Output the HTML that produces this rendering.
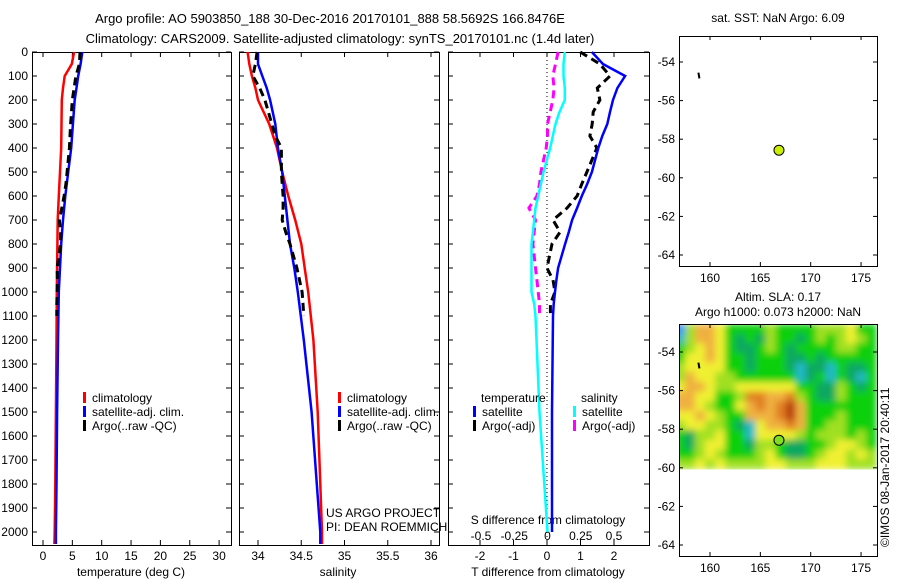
<!DOCTYPE html>
<html><head><meta charset="utf-8"><style>
html,body{margin:0;padding:0;background:#fff}
svg{display:block;font-family:"Liberation Sans",sans-serif}
text{fill:#000}
</style></head><body>
<svg id="c" width="900" height="580" viewBox="0 0 900 580">
<defs>
<filter id="bl" x="0" y="0" width="100%" height="100%"><feGaussianBlur stdDeviation="3.5" edgeMode="duplicate"/></filter>
<clipPath id="hmclip"><rect x="679" y="324" width="198" height="146"/></clipPath>
</defs>
<text x="330" y="23" font-size="13" text-anchor="middle">Argo profile: AO 5903850_188 30-Dec-2016 20170101_888 58.5692S 166.8476E</text>
<text x="340" y="43" font-size="13" text-anchor="middle">Climatology: CARS2009. Satellite-adjusted climatology: synTS_20170101.nc (1.4d later)</text>
</svg>
<script>
// ---- data ----
const depthClim = [0,50,100,150,200,300,400,500,600,700,800,900,1000,1200,1500,1800,2000,2050];
const tempClim  = [5.3,4.9,3.7,3.4,3.2,3.15,3.1,2.9,2.7,2.5,2.45,2.4,2.35,2.3,2.2,2.1,2.0,1.95];
const tempSat   = [6.7,6.4,6.0,5.7,5.4,5.1,4.8,4.3,3.8,3.4,3.1,2.9,2.7,2.55,2.4,2.3,2.2,2.2];
const salClim   = [33.88,33.9,33.93,33.97,34.0,34.13,34.22,34.28,34.35,34.43,34.5,34.54,34.58,34.64,34.69,34.72,34.74,34.74];
const salSat    = [34.0,34.0,34.05,34.1,34.14,34.2,34.23,34.28,34.31,34.34,34.37,34.42,34.46,34.53,34.62,34.68,34.72,34.72];
const depthArgo = [0,50,100,150,200,250,300,350,400,500,550,600,650,700,750,800,900,950,1000,1050,1100];
const tempArgo  = [6.3,6.2,5.6,5.3,5.0,4.85,4.7,4.6,4.5,4.1,3.9,3.6,3.2,2.8,3.0,3.0,2.4,2.45,2.4,2.35,2.35];
const salArgo   = [33.99,33.97,33.94,34.02,34.08,34.12,34.16,34.2,34.27,34.27,34.28,34.29,34.29,34.28,34.32,34.37,34.45,34.48,34.51,34.52,34.53];
const dTArgo    = [0.99,1.58,1.88,1.5,1.58,1.38,1.35,1.28,1.49,1.19,1.04,0.9,0.6,0.18,0.39,0.15,0.0,0.18,0.24,0.1,0.1];
const dSArgo    = [0.08,0.06,0.04,0.05,0.04,0.02,0.0,0.0,-0.01,-0.05,-0.06,-0.08,-0.14,-0.09,-0.1,-0.11,-0.09,-0.08,-0.07,-0.06,-0.06];
const dTSat     = [1.34,1.67,2.33,2.1,1.97,1.88,1.8,1.65,1.53,1.34,1.2,1.04,0.9,0.75,0.65,0.54,0.33,0.28,0.24,0.2,0.18];
const dSSat     = [0.13,0.12,0.12,0.13,0.13,0.09,0.06,0.04,0.02,-0.03,-0.05,-0.07,-0.09,-0.1,-0.11,-0.12,-0.12,-0.12,-0.12,-0.1,-0.09];
const depthDeep = [1100,1500,2000];
const dTSatDeep = [0.18,0.15,0.15];
const dSSatDeep = [-0.09,-0.06,0.0];
const depthTicks = [0,100,200,300,400,500,600,700,800,900,1000,1100,1200,1300,1400,1500,1600,1700,1800,1900,2000];
const tempTicks = [0,5,10,15,20,25,30];
const salTicks = [34,34.5,35,35.5,36];
const salTickLabels = ["34","34.5","35","35.5","36"];
const dTTicks = [-2,-1,0,1,2];
const dSTicks = [-0.5,-0.25,0,0.25,0.5];
const lonTicks = [160,165,170,175];
const latTicks = [-54,-56,-58,-60,-62,-64];
const argoLon = 166.85, argoLat = -58.57;
const trackLon = [158.85,158.95], trackLat = [-54.55,-54.85];
// SLA heatmap levels (rows: lat -52.8 .. -59.8 step 0.5, cols: lon 157..176)
const slaLatTop = -52.55, slaLatStep = 0.5, slaLon0 = 157, slaLonStep = 1;
const slaGrid = [
[0,4,6,6,5,3,3,3,3,4,3,3,3,3,4,4,4,5,3,3],
[1,4,6,6,5,3,2,3,2,4,3,3,2,3,4,3,4,5,4,3],
[3,4,5,6,5,3,2,2,3,4,3,2,3,3,3,3,4,4,3,3],
[3,5,5,6,5,3,3,2,3,3,3,2,2,3,2,3,3,3,3,3],
[4,5,5,5,5,3,3,2,3,3,3,2,1,2,2,1,3,2,2,3],
[4,6,5,5,4,4,3,3,3,3,3,3,1,2,3,1,3,2,1,3],
[5,6,6,5,4,4,5,5,5,5,5,5,3,3,2,2,4,3,2,3],
[6,6,5,5,3,3,4,7,7,6,6,7,4,3,2,2,4,3,3,3],
[6,6,5,4,3,3,5,6,7,6,7,8,6,3,3,3,3,3,3,3],
[5,5,6,5,4,3,3,6,6,6,7,8,6,3,3,3,4,3,3,3],
[4,5,5,4,4,3,2,1,5,6,6,7,6,3,3,4,4,3,3,3],
[3,2,4,4,5,3,3,1,5,5,5,5,4,3,4,4,4,3,4,3],
[3,2,4,5,5,3,3,2,4,4,3,2,2,3,3,4,5,5,4,3],
[3,3,4,5,4,3,3,3,4,5,3,2,2,3,4,5,5,4,5,4],
[4,4,5,4,5,4,4,4,4,5,5,4,4,4,5,5,5,4,4,4]
];
const slaColors = ["#1e90ff","#20b8c8","#10a860","#10d010","#a0e020","#f0f030","#f0b040","#e08020","#b84010"];

// ---- helpers ----
const svg = document.getElementById('c');
const NS = 'http://www.w3.org/2000/svg';
function mk(tag, attrs, parent){const e=document.createElementNS(NS,tag);for(const k in attrs)e.setAttribute(k,attrs[k]);(parent||svg).appendChild(e);return e;}
const Y = d => 52 + d*0.24;
const xT = t => 43 + t*5.87;
const xS = s => 258 + (s-34)*86.5;
const xdT = t => 547 + t*33.5;
const xdS = s => 547.5 + s*133;
const mX = lon => 710 + (lon-160)*10.07;
const mY1 = lat => 62 + (-54-lat)*19.3;
const mY2 = lat => 352 + (-54-lat)*19.3;

function series(xs, ds, fx, color, w, dash, name){
  const pts = xs.map((v,i)=>fx(v).toFixed(1)+','+Y(ds[i]).toFixed(1)).join(' ');
  const p = mk('polyline',{points:pts,fill:'none',stroke:color,'stroke-width':w});
  if(dash) p.setAttribute('stroke-dasharray',dash);
  
  
}
function frame(x0,x1,y0,y1,name){
  const r = mk('rect',{x:x0,y:y0,width:x1-x0,height:y1-y0,fill:'none',stroke:'#000','stroke-width':1});
  
  
}
function txt(x,y,s,anchor,size,name){
  const t = mk('text',{x:x,y:y,'font-size':size||12,'text-anchor':anchor||'start'});
  t.textContent = s;
  
  
  return t;
}
function tick(x1,y1,x2,y2){const l=mk('line',{x1:x1,y1:y1,x2:x2,y2:y2,stroke:'#000','stroke-width':1});
  
  }

// ---- profile panels ----
const panels = [[32,231],[239,439],[448,649]];
panels.forEach((p,i)=>{
  frame(p[0]+0.5,p[1]+0.5,52.5,545.5,'profile-panel-'+(i+1));
  depthTicks.forEach(d=>{tick(p[0],Y(d),p[0]+5,Y(d));tick(p[1]-5,Y(d),p[1],Y(d));});
});
depthTicks.forEach(d=>txt(28,Y(d)+4,String(d),'end',12,'depth-tick-label'));
tempTicks.forEach(t=>{tick(xT(t),52,xT(t),57);tick(xT(t),540,xT(t),545);txt(xT(t),560,String(t),'middle',12,'temp-tick-label');});
salTicks.forEach((s,i)=>{tick(xS(s),52,xS(s),57);tick(xS(s),540,xS(s),545);txt(xS(s),560,salTickLabels[i],'middle',12,'sal-tick-label');});
dTTicks.forEach(t=>{tick(xdT(t),52,xdT(t),57);tick(xdT(t),540,xdT(t),545);txt(xdT(t),560,String(t),'middle',12,'tdiff-tick-label');});
dSTicks.forEach(s=>txt(xdS(s),540,String(s),'middle',12,'sdiff-tick-label'));
txt(131,576,'temperature (deg C)','middle',12,'temp-axis-title');
txt(338,576,'salinity','middle',12,'sal-axis-title');
txt(548,576,'T difference from climatology','middle',12,'tdiff-axis-title');
txt(548,524,'S difference from climatology','middle',12,'sdiff-axis-title');

// zero line
const z = mk('line',{x1:xdT(0),y1:52,x2:xdT(0),y2:545,stroke:'#000','stroke-width':1,'stroke-dasharray':'1,3'});



series(tempClim, depthClim, xT, '#f00', 2.5, null, 'temp-climatology-line');
series(tempSat, depthClim, xT, '#00f', 2.5, null, 'temp-satellite-line');
series(tempArgo, depthArgo, xT, '#000', 3, '8,5', 'temp-argo-line');
series(salClim, depthClim, xS, '#f00', 2.5, null, 'sal-climatology-line');
series(salSat, depthClim, xS, '#00f', 2.5, null, 'sal-satellite-line');
series(salArgo, depthArgo, xS, '#000', 3, '8,5', 'sal-argo-line');
series(dSArgo, depthArgo, xdS, '#f0f', 3, '8,5', 'sdiff-argo-line');
series(dSSat, depthArgo, xdS, '#0ff', 2.5, null, 'sdiff-satellite-line');
series(dSSatDeep, depthDeep, xdS, '#0ff', 2.5, null, 'sdiff-satellite-deep-line');
series(dTArgo, depthArgo, xdT, '#000', 3, '8,5', 'tdiff-argo-line');
series(dTSat, depthArgo, xdT, '#00f', 2.5, null, 'tdiff-satellite-line');
series(dTSatDeep, depthDeep, xdT, '#00f', 2.5, null, 'tdiff-satellite-deep-line');

// legends
function legItem(x,y,color,label,name){
  const r = mk('rect',{x:x,y:y-10,width:3,height:11,fill:color});
  
  
  txt(x+9,y,label,'start',12,name);
}
[[83,'#f00','climatology'],[83,'#00f','satellite-adj. clim.'],[83,'#000','Argo(..raw -QC)']].forEach((l,i)=>legItem(l[0],402+i*14,l[1],l[2],'legend-entry'));
[[338,'#f00','climatology'],[338,'#00f','satellite-adj. clim.'],[338,'#000','Argo(..raw -QC)']].forEach((l,i)=>legItem(l[0],402+i*14,l[1],l[2],'legend-entry'));
txt(481,402,'temperature','start',12,'legend-temp-header');
txt(581,402,'salinity','start',12,'legend-sal-header');
legItem(473,416,'#00f','satellite','legend-entry');
legItem(473,430,'#000','Argo(-adj)','legend-entry');
legItem(573,416,'#0ff','satellite','legend-entry');
legItem(573,430,'#f0f','Argo(-adj)','legend-entry');
txt(326,517,'US ARGO PROJECT','start',12,'project-label');
txt(326,531,'PI: DEAN ROEMMICH','start',12,'pi-label');

// ---- maps ----
function mapFrame(y0,y1,fy,name){
  frame(679.5,877.5,y0+0.5,y1+0.5,name);
  lonTicks.forEach(l=>{tick(mX(l),y0,mX(l),y0+4);tick(mX(l),y1-4,mX(l),y1);txt(mX(l),y1+16,String(l),'middle',12,'lon-tick-label');});
  latTicks.forEach(l=>{tick(679,fy(l),683,fy(l));tick(873,fy(l),877,fy(l));txt(675,fy(l)+4,String(l),'end',12,'lat-tick-label');});
}
// heatmap
const hg = mk('g',{'clip-path':'url(#hmclip)'});


const hb = mk('g',{filter:'url(#bl)'},hg);
slaGrid.forEach((row,r)=>row.forEach((v,c)=>{
  const lat0 = slaLatTop - r*slaLatStep;
  const x = mX(slaLon0 + c*slaLonStep) - 5;
  const cell = mk('rect',{x:x.toFixed(1),y:mY2(lat0).toFixed(1),width:(slaLonStep*10.07+0.6).toFixed(1),height:(slaLatStep*19.3+0.6).toFixed(1),fill:slaColors[v]},hb);
  
  
}));
mapFrame(36,266,mY1,'sst-map');
mapFrame(324,556,mY2,'sla-map');
[[mY1,'#ccee00'],[mY2,'#80dd20']].forEach((m,i)=>{
  const tr = mk('polyline',{points:trackLon.map((l,j)=>mX(l)+','+m[0](trackLat[j])).join(' '),stroke:'#000','stroke-width':2,fill:'none'});
  
  
  const c = mk('circle',{cx:mX(argoLon),cy:m[0](argoLat),r:5,fill:m[1],stroke:'#000','stroke-width':1});
  
  
});
txt(778,22,'sat. SST: NaN Argo: 6.09','middle',12,'sst-map-title');
txt(778,301,'Altim. SLA: 0.17','middle',12,'sla-map-title');
txt(778,316,'Argo h1000: 0.073 h2000: NaN','middle',12,'sla-map-subtitle');
const v = txt(0,0,'©IMOS 08-Jan-2017 20:40:11','start',12,'imos-credit');
v.setAttribute('transform','translate(889,547) rotate(-90)');
</script>
</body></html>
